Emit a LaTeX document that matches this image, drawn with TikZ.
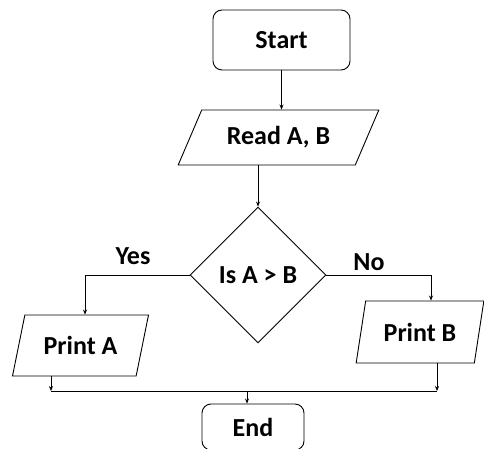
\documentclass[tikz,border=0pt]{standalone}
\usepackage{fontspec}
\setmainfont{Carlito}
\usetikzlibrary{shapes.geometric}
\usetikzlibrary{arrows.meta}

\begin{document}
\begin{tikzpicture}[x=1pt, y=-1pt,
  every node/.style={font=\fontsize{26}{30}\selectfont\bfseries, inner sep=0pt},
  term/.style={draw, line width=0.9pt, rounded corners=9pt},
  io/.style={draw, line width=0.9pt, trapezium, trapezium stretches=true},
  cond/.style={draw, line width=0.9pt, diamond},
  arr/.style={-{Stealth[length=5pt, width=4pt]}, line width=0.7pt},
  link/.style={line width=0.7pt}]
\useasboundingbox (0,0) rectangle (484,449);

\node[term, minimum width=137pt, minimum height=60pt] (start) at (281.5,40) {Start};
\node[io, minimum width=201pt, minimum height=55pt, trapezium left angle=54, trapezium right angle=126] (read) at (278.5,137.5) {Read A, B};
\node[cond, minimum width=136pt, minimum height=136pt] (test) at (258,275) {Is A > B};
\node[io, minimum width=137pt, minimum height=61pt, trapezium left angle=66, trapezium right angle=114] (printA) at (80.5,345.5) {Print A};
\node[io, minimum width=128pt, minimum height=62pt, trapezium left angle=71, trapezium right angle=109] (printB) at (420,332) {Print B};
\node[term, minimum width=102pt, minimum height=46pt] (end) at (253,427) {End};

\node (yes) at (133,256) {Yes};
\node (no) at (369,262) {No};

\coordinate (joinA) at (51,391);
\coordinate (joinB) at (437,391);
\coordinate (joinE) at (247,391);
\coordinate (toA) at (85,300);
\coordinate (toB) at (431,290);

\draw[arr] (start.south) -- (start.south |- read.north);
\draw[arr] (test.north |- read.south) -- (test.north);
\draw[arr] (test.west) -| (toA |- printA.north);
\draw[arr] (test.east) -| (toB |- printB.north);
\draw[arr] (joinA |- printA.south) -- (joinA);
\draw[arr] (joinB |- printB.south) -- (joinB);
\draw[link] (joinA) -- (joinB);
\draw[arr] (joinE) -- (joinE |- end.north);
\end{tikzpicture}
\end{document}
